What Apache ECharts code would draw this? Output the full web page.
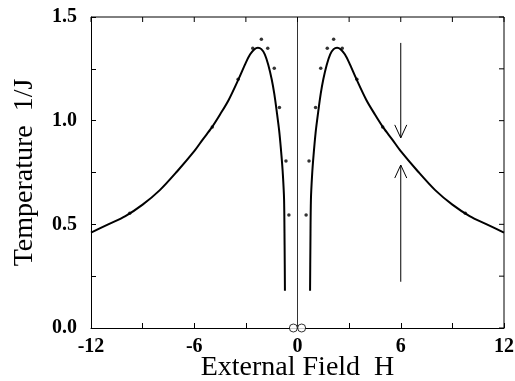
<!DOCTYPE html>
<html>
<head>
<meta charset="utf-8">
<script src="https://cdn.jsdelivr.net/npm/echarts@6/dist/echarts.min.js"></script>
<style>
  html, body { margin: 0; padding: 0; background: #fff; }
  #chart { width: 515px; height: 381px; }
</style>
</head>
<body>
<div id="chart"></div>
<script>
// fitted curve, right half (H > 0); left half is the mirror image
const curveH = [0.73, 0.75, 0.78, 0.85, 0.93, 1.05, 1.2, 1.35, 1.5, 1.7, 1.9, 2.1, 2.3, 2.5, 2.75, 3.0, 3.4, 4.0, 4.5, 5.0, 5.5, 6.0, 7.0, 8.0, 9.0, 10.0, 11.0, 12.0]
const curveT = [0.18, 0.40, 0.62, 0.74, 0.83, 0.94, 1.04, 1.13, 1.20, 1.27, 1.32, 1.345, 1.352, 1.345, 1.32, 1.28, 1.205, 1.10, 1.03, 0.965, 0.91, 0.853, 0.755, 0.665, 0.595, 0.54, 0.50, 0.46]

// simulation points, right half
const dotH = [0.5, 0.67, 1.05, 1.35, 1.73, 2.1, 2.6, 3.45, 4.95, 9.75]
const dotT = [0.545, 0.806, 1.063, 1.253, 1.349, 1.393, 1.349, 1.20, 0.97, 0.553]

// open circles on the H axis
const circleH = [-0.24, 0.24]

// arrows at H = 6: [from, to]
const arrowDown = [[6, 1.375], [6, 0.917]]
const arrowUp = [[6, 0.223], [6, 0.786]]

// axis ranges and ticks (labels every other tick)
const xRange = [-12, 12]
const yRange = [0, 1.5]
const xStep = 6
const yStep = 0.5
const xMinorTicks = [-12, -9, -6, -3, 0, 3, 6, 9, 12]
const yMinorTicks = [0, 0.25, 0.5, 0.75, 1.0, 1.25, 1.5]

const leftCurve = curveH.map((h, i) => [-h, curveT[i]])
const rightCurve = curveH.map((h, i) => [h, curveT[i]])
const dots = dotH.map((h, i) => [-h, dotT[i]]).concat(dotH.map((h, i) => [h, dotT[i]]))

const serif = 'Liberation Serif'
const chart = echarts.init(document.getElementById('chart'))

const axisLine = () => ({ show: true, onZero: false, lineStyle: { color: '#000', width: 1 } })
const tick = () => ({ show: true, inside: true, length: 5, lineStyle: { color: '#000' } })
const minor = () => ({ show: true, splitNumber: 2, length: 5, lineStyle: { color: '#000' } })

const lineStyle = { stroke: '#000', lineWidth: 1, fill: null }

function renderArrow (params, api) {
  const pair = params.dataIndex === 0 ? arrowDown : arrowUp
  const a = api.coord(pair[0])
  const b = api.coord(pair[1])
  const dir = b[1] < a[1] ? 1 : -1 // tip pointing up -> arms go down
  return {
    type: 'group',
    children: [
      { type: 'line', shape: { x1: a[0], y1: a[1], x2: b[0], y2: b[1] }, style: lineStyle },
      { type: 'polyline', shape: { points: [[b[0] - 6, b[1] + dir * 13], b, [b[0] + 6, b[1] + dir * 13]] }, style: lineStyle }
    ]
  }
}

// top and right edges of the frame, with inward ticks
function renderFrame (params, api) {
  const tl = api.coord([xRange[0], yRange[1]])
  const tr = api.coord([xRange[1], yRange[1]])
  const br = api.coord([xRange[1], yRange[0]])
  const children = [
    { type: 'line', shape: { x1: tl[0], y1: tl[1], x2: tr[0], y2: tr[1] }, style: lineStyle },
    { type: 'line', shape: { x1: tr[0], y1: tr[1], x2: br[0], y2: br[1] }, style: lineStyle }
  ]
  xMinorTicks.forEach(v => {
    const p = api.coord([v, yRange[1]])
    children.push({ type: 'line', shape: { x1: p[0], y1: p[1], x2: p[0], y2: p[1] + 5 }, style: lineStyle })
  })
  yMinorTicks.forEach(v => {
    const p = api.coord([xRange[1], v])
    children.push({ type: 'line', shape: { x1: p[0], y1: p[1], x2: p[0] - 5, y2: p[1] }, style: lineStyle })
  })
  return { type: 'group', children }
}

chart.setOption({
  animation: false,
  grid: {
    left: 91, right: 11, top: 17, bottom: 53,
    outerBoundsMode: 'none'
  },
  xAxis: {
    type: 'value',
    min: xRange[0],
    max: xRange[1],
    interval: xStep,
    axisLine: axisLine(),
    axisTick: tick(),
    minorTick: minor(),
    splitLine: { show: false },
    axisLabel: {
      margin: 9,
      color: '#000',
      fontFamily: serif,
      fontWeight: 'bold',
      fontSize: 20
    },
    name: 'External Field  H',
    nameLocation: 'middle',
    nameGap: 26,
    nameMoveOverlap: false,
    nameTextStyle: { color: '#000', fontFamily: serif, fontSize: 28, verticalAlign: 'top' }
  },
  yAxis: {
    type: 'value',
    min: yRange[0],
    max: yRange[1],
    interval: yStep,
    axisLine: axisLine(),
    axisTick: tick(),
    minorTick: minor(),
    splitLine: { show: false },
    axisLabel: {
      margin: 14,
      color: '#000',
      fontFamily: serif,
      fontWeight: 'bold',
      fontSize: 20,
      formatter: v => Number(v).toFixed(1)
    },
    name: 'Temperature  1/J',
    nameLocation: 'middle',
    nameGap: 52,
    nameMoveOverlap: false,
    nameTextStyle: { color: '#000', fontFamily: serif, fontSize: 28 }
  },
  series: [
    {
      type: 'line',
      data: [[0, 0], [0, 1.5]],
      symbol: 'none',
      lineStyle: { color: '#333', width: 1 }
    },
    {
      type: 'line',
      data: leftCurve,
      symbol: 'none',
      smooth: 0.3,
      lineStyle: { color: '#000', width: 2 }
    },
    {
      type: 'line',
      data: rightCurve,
      symbol: 'none',
      smooth: 0.3,
      lineStyle: { color: '#000', width: 2 }
    },
    {
      type: 'scatter',
      data: dots,
      symbol: 'circle',
      symbolSize: 3.5,
      itemStyle: { color: '#000' }
    },
    {
      type: 'scatter',
      data: circleH.map(h => [h, 0]),
      symbol: 'circle',
      symbolSize: 8,
      clip: false,
      z: 5,
      itemStyle: { color: '#fff', borderColor: '#000', borderWidth: 1 }
    },
    {
      type: 'custom',
      data: [0, 1],
      renderItem: renderArrow,
      clip: false
    },
    {
      type: 'custom',
      data: [0],
      renderItem: renderFrame,
      clip: false,
      z: 4
    }
  ]
})
</script>
</body>
</html>
